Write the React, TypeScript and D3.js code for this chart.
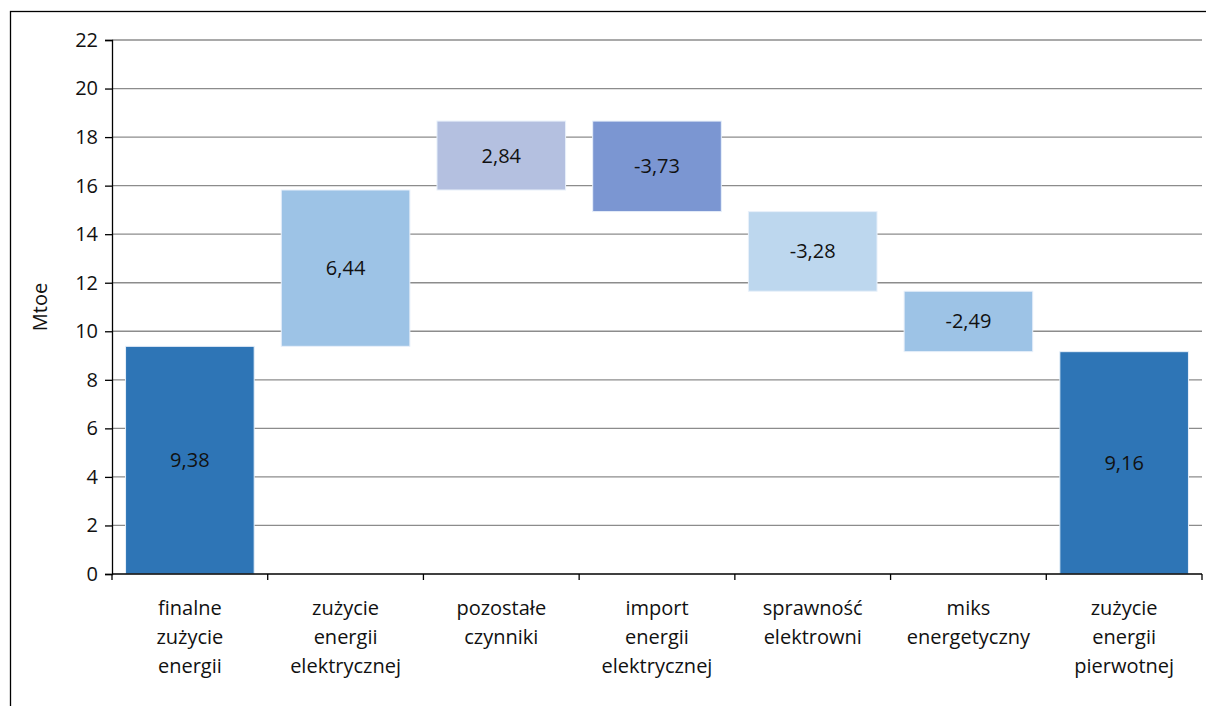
import React, { useEffect, useRef } from 'react'
import * as d3 from 'd3'

const categories = [
  ['finalne', 'zużycie', 'energii'],
  ['zużycie', 'energii', 'elektrycznej'],
  ['pozostałe', 'czynniki'],
  ['import', 'energii', 'elektrycznej'],
  ['sprawność', 'elektrowni'],
  ['miks', 'energetyczny'],
  ['zużycie', 'energii', 'pierwotnej'],
]
const changes = [9.38, 6.44, 2.84, -3.73, -3.28, -2.49, 9.16]
const isTotal = [true, false, false, false, false, false, true]
const colors = ['#2e75b6', '#9dc3e6', '#b4c0e0', '#7b96d2', '#bdd7ee', '#9dc3e6', '#2e75b6']
const yTicks = [0, 2, 4, 6, 8, 10, 12, 14, 16, 18, 20, 22]

const FONT = "'Open Sans', sans-serif"
const FS = '20px'

export default function App() {
  const ref = useRef<SVGSVGElement>(null)

  useEffect(() => {
    const svg = d3.select(ref.current)
    svg.selectAll('*').remove()

    const left = 112, right = 1202, top = 40, bottom = 574

    // frame
    svg.append('rect')
      .attr('x', 10.5).attr('y', 11.5)
      .attr('width', 1220).attr('height', 720)
      .attr('fill', 'white').attr('stroke', '#000').attr('stroke-width', 1.3)

    const x = d3.scaleBand<number>()
      .domain(d3.range(categories.length))
      .range([left, right])
      .paddingInner(0.174)
      .paddingOuter(0.087)

    const y = d3.scaleLinear().domain([0, 22]).range([bottom, top])

    // grid
    svg.append('g').selectAll('line')
      .data(yTicks.filter(t => t > 0))
      .enter().append('line')
      .attr('x1', left).attr('x2', right)
      .attr('y1', d => y(d)).attr('y2', d => y(d))
      .attr('stroke', '#8c8c8c').attr('stroke-width', 1.3)

    // waterfall bars
    let running = 0
    const bars = changes.map((v, i) => {
      let lo: number, hi: number
      if (isTotal[i]) {
        lo = 0; hi = v; running = v
      } else {
        const start = running
        running = start + v
        lo = Math.min(start, running); hi = Math.max(start, running)
      }
      return { i, v, lo, hi }
    })

    const g = svg.append('g')
    g.selectAll('rect')
      .data(bars)
      .enter().append('rect')
      .attr('x', d => x(d.i)!)
      .attr('width', x.bandwidth())
      .attr('y', d => y(d.hi))
      .attr('height', d => y(d.lo) - y(d.hi))
      .attr('fill', d => colors[d.i])
      .attr('stroke', '#e8f0fa').attr('stroke-width', 1)

    g.selectAll('text')
      .data(bars)
      .enter().append('text')
      .attr('x', d => x(d.i)! + x.bandwidth() / 2)
      .attr('y', d => (y(d.lo) + y(d.hi)) / 2)
      .attr('dy', '0.35em')
      .attr('text-anchor', 'middle')
      .style('font-family', FONT).style('font-size', FS)
      .attr('fill', '#111')
      .text(d => d.v.toFixed(2).replace('.', ','))

    // y axis
    const yAxis = d3.axisLeft(y).tickValues(yTicks).tickSize(7).tickFormat(d => String(d))
    const ya = svg.append('g').attr('transform', `translate(${left},0)`).call(yAxis)
    ya.attr('font-size', null).attr('font-family', null)
    ya.select('.domain').attr('stroke', '#000').attr('stroke-width', 1.3)
    ya.selectAll('.tick line').attr('stroke', '#000').attr('stroke-width', 1.3)
    ya.selectAll('.tick text')
      .attr('x', -14)
      .style('font-family', FONT).style('font-size', FS).attr('fill', '#111')

    // x axis
    const xa = svg.append('g')
    xa.append('line')
      .attr('x1', left).attr('x2', right)
      .attr('y1', bottom).attr('y2', bottom)
      .attr('stroke', '#000').attr('stroke-width', 1.3)
    const step = x.step()
    xa.selectAll('line.tk')
      .data(d3.range(categories.length + 1))
      .enter().append('line')
      .attr('class', 'tk')
      .attr('x1', i => left + i * step).attr('x2', i => left + i * step)
      .attr('y1', bottom).attr('y2', bottom + 6)
      .attr('stroke', '#000').attr('stroke-width', 1.3)

    const labels = xa.selectAll('text')
      .data(categories)
      .enter().append('text')
      .attr('text-anchor', 'middle')
      .style('font-family', FONT).style('font-size', FS)
      .attr('fill', '#111')
    labels.each(function (lines, i) {
      const t = d3.select(this)
      lines.forEach((ln, k) => {
        t.append('tspan')
          .attr('x', x(i)! + x.bandwidth() / 2)
          .attr('y', 615 + k * 29)
          .text(ln)
      })
    })

    // y title
    svg.append('text')
      .attr('transform', `translate(47,${y(11)}) rotate(-90)`)
      .attr('text-anchor', 'middle')
      .style('font-family', FONT).style('font-size', FS)
      .attr('fill', '#111')
      .text('Mtoe')
  }, [])

  return (
    <svg ref={ref} width={1206} height={706}
      style={{ position: 'absolute', left: 0, top: 0, display: 'block' }} />
  )
}
